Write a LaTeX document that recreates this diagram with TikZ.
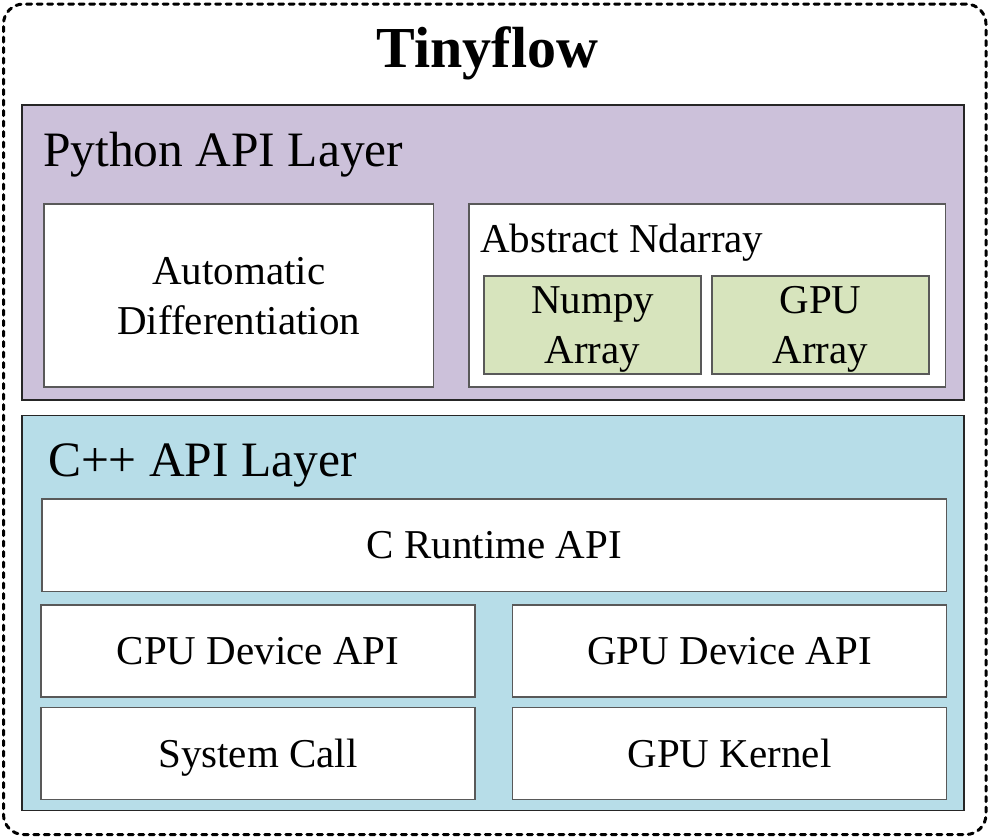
\documentclass[tikz,border=0pt]{standalone}
\usepackage{fontspec}
\setmainfont{Liberation Serif}
\usepackage{tikz}

\definecolor{pylayer}{RGB}{204,193,218}
\definecolor{cpplayer}{RGB}{183,221,232}
\definecolor{arrfill}{RGB}{215,228,189}

\begin{document}
\begin{tikzpicture}[x=1pt,y=-1pt]
        \tikzstyle{every node}+=[inner sep=0pt, outer sep=0pt]
        \tikzstyle{frame}=[draw, line width=3pt, dash pattern=on 5pt off 5.5pt, line cap=round, rounded corners=20pt, anchor=north west]
        \tikzstyle{layer}=[draw=black!85, line width=1.2pt, anchor=north west]
        \tikzstyle{block}=[draw=black!65, line width=1.2pt, fill=white, anchor=north west, align=center, text depth=0pt, font=\fontsize{41}{50}\selectfont]
        \tikzstyle{layertitle}=[anchor=base west, font=\fontsize{49.5}{55}\selectfont]
        \useasboundingbox (0,0) rectangle (990,838);
        \node [frame, minimum width=982.5pt, minimum height=830.5pt] (frame) at (3.5,4) {};
        \node [anchor=base, font=\bfseries\fontsize{58}{60}\selectfont] (title) at (487.5,67) {Tinyflow};
        % python layer
        \node [layer, fill=pylayer, minimum width=942pt, minimum height=295pt] (py) at (22,105) {};
        \node [layertitle] (pytitle) at (43,166) {Python API Layer};
        \node [block, minimum width=389.5pt, minimum height=183pt] (autodiff) at (44,204) {Automatic\\Differentiation};
        \node [block, minimum width=476.5pt, minimum height=183pt] (ndarray) at (469,204) {};
        \node [anchor=base west, font=\fontsize{41}{50}\selectfont] (ndtitle) at (480,252) {Abstract Ndarray};
        \node [block, fill=arrfill, minimum width=217pt, minimum height=98pt] (numpy) at (484,276) {Numpy\\Array};
        \node [block, fill=arrfill, minimum width=217pt, minimum height=98pt] (gpuarr) at (712,276) {GPU\\Array};
        % c++ layer
        \node [layer, fill=cpplayer, minimum width=942pt, minimum height=395pt] (cpp) at (22,415.5) {};
        \node [layertitle] (cpptitle) at (48,476.5) {C++ API Layer};
        \node [block, minimum width=904.5pt, minimum height=92.5pt] (runtime) at (42,499) {C Runtime API};
        \node [block, minimum width=434pt, minimum height=92pt] (cpudev) at (41,605) {CPU Device API};
        \node [block, minimum width=434pt, minimum height=92pt] (gpudev) at (512.5,605) {GPU Device API};
        \node [block, minimum width=434pt, minimum height=92pt] (syscall) at (41,707.5) {System Call};
        \node [block, minimum width=434pt, minimum height=92pt] (kernel) at (512.5,707.5) {GPU Kernel};
\end{tikzpicture}
\end{document}
